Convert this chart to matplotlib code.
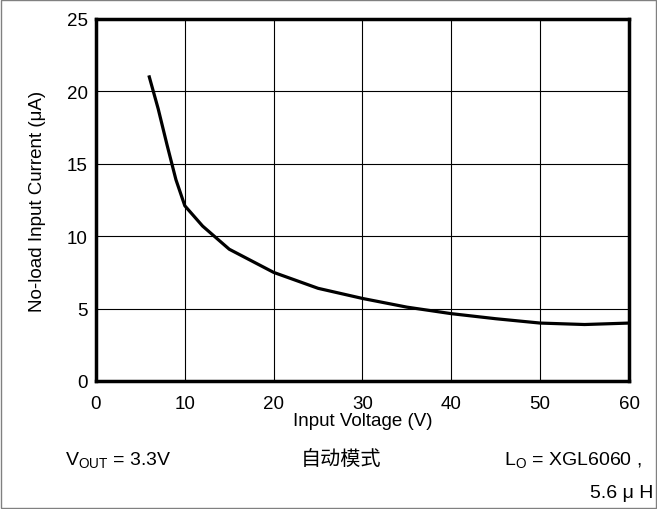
import matplotlib
matplotlib.use("Agg")
from matplotlib import pyplot as plt

plt.rcParams['font.family'] = ['Liberation Sans', 'Noto Sans CJK SC', 'DejaVu Sans']

# no-load input current vs input voltage
vin = [6, 7, 8, 9, 10, 12, 15, 20, 25, 30, 35, 40, 45, 50, 55, 60]
iq = [21.0, 18.8, 16.3, 13.9, 12.1, 10.7, 9.1, 7.5, 6.4, 5.7, 5.1, 4.65, 4.3, 4.0, 3.9, 4.0]

xticks = [0, 10, 20, 30, 40, 50, 60]
yticks = [0, 5, 10, 15, 20, 25]

fig = plt.figure(figsize=(6.57, 5.10), dpi=100)
ax = fig.add_axes([0.1461, 0.251, 0.8113, 0.7098])

ax.plot(vin, iq, color='black', lw=2.3)
ax.set_xlim(0, 60)
ax.set_ylim(0, 25)
ax.set_xticks(xticks)
ax.set_yticks(yticks)
ax.grid(True, color='black', lw=0.8)
ax.tick_params(length=0, labelsize=13.5)
ax.tick_params(axis='x', pad=10)
ax.tick_params(axis='y', pad=6)
for s in ax.spines.values():
    s.set_linewidth(2.5)

ax.set_xlabel('Input Voltage (V)', fontsize=13.5, labelpad=0)
ax.set_ylabel('No-load Input Current (\u03bcA)', fontsize=13.5, labelpad=15)

fig.text(0.099, 0.088, '$\\mathregular{V_{OUT}}$ = 3.3V', fontsize=14, va='baseline')
fig.text(0.519, 0.088, '自动模式', fontsize=14.5, va='baseline', ha='center', fontweight='light')
fig.text(0.977, 0.088, '$\\mathregular{L_{O}}$ = XGL6060 ,', fontsize=14, va='baseline', ha='right')
fig.text(0.994, 0.024, '5.6 \u03bc H', fontsize=14, va='baseline', ha='right')

# thin frame around the whole figure
fig.patches.append(plt.Rectangle((0.001, 0.001), 0.997, 0.997, transform=fig.transFigure,
                                 fill=False, edgecolor='#808080', lw=1))

fig.savefig('out.png', dpi=100)
